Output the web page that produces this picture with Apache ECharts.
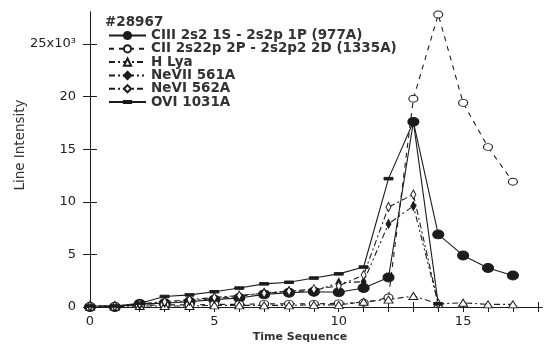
<!DOCTYPE html>
<html>
<head>
<meta charset="utf-8">
<script src="https://cdn.jsdelivr.net/npm/echarts@6/dist/echarts.min.js"></script>
<style>
  html, body { margin: 0; padding: 0; background: #fff; }
  #chart { width: 544px; height: 347px; }
</style>
</head>
<body>
<div id="chart"></div>
<script>
// time sequence steps
const timeSeq = [0, 1, 2, 3, 4, 5, 6, 7, 8, 9, 10, 11, 12, 13, 14, 15, 16, 17];

// line intensities (x10^3)
const ciii = [0, 0, 0.3, 0.35, 0.5, 0.7, 0.85, 1.2, 1.35, 1.45, 1.4, 1.8, 2.8, 17.6, 6.9, 4.9, 3.7, 3.0];
const cii = [0.1, 0.1, 0.15, 0.2, 0.2, 0.25, 0.25, 0.3, 0.3, 0.3, 0.35, 0.4, 0.9, 19.8, 27.8, 19.4, 15.2, 11.9];
const hlya = [0.05, 0.05, 0.1, 0.1, 0.1, 0.15, 0.15, 0.15, 0.15, 0.2, 0.2, 0.5, 0.7, 1.05, 0.3, 0.4, 0.25, 0.25];
const nevii = [0.1, 0.1, 0.2, 0.4, 0.6, 0.8, 1.0, 1.35, 1.5, 1.5, 2.3, 2.4, 7.9, 9.6, 0.3];
const nevi = [0.1, 0.1, 0.3, 0.5, 0.7, 0.9, 1.1, 1.3, 1.5, 1.7, 2.0, 3.05, 9.5, 10.7, 0.3];
const ovi = [0.1, 0.1, 0.35, 1.0, 1.15, 1.45, 1.8, 2.2, 2.35, 2.75, 3.15, 3.8, 12.2, 17.6, 0.3];

const xLabels = [0, 5, 10, 15];
const yLabels = [0, 5, 10, 15, 20, 25];

const ink = '#1c1c1c';
const font = 'DejaVu Sans';
// small horizontal dash, padded to a square box so it is not stretched
const dash = 'path://M0,0M0,3.6L10,3.6L10,6.4L0,6.4ZM10,10';

function pairs(vals) {
  return vals.map((v, i) => [timeSeq[i], v]);
}

function line(name, vals, symbol, size, fill, type) {
  return {
    name: name,
    type: 'line',
    data: pairs(vals),
    symbol: symbol,
    symbolSize: size,
    showAllSymbol: true,
    lineStyle: { color: ink, width: 1.1, type: type || 'solid' },
    itemStyle: { color: fill, borderColor: ink, borderWidth: 1 },
    z: 3
  };
}

const chart = echarts.init(document.getElementById('chart'), null, { renderer: 'canvas' });

const tickVals = timeSeq.concat([18]);

const option = {
  animation: false,
  backgroundColor: '#fff',
  grid: { left: 84, top: 12, right: 2, bottom: 37, containLabel: false },
  title: {
    text: '#28967',
    left: 105,
    top: 15,
    padding: 0,
    textStyle: { fontFamily: font, fontSize: 13.5, fontWeight: 'bold', color: '#333' }
  },
  legend: {
    orient: 'vertical',
    left: 108,
    top: 28.5,
    padding: 0,
    itemWidth: 37,
    itemHeight: 9,
    itemGap: -0.7,
    textStyle: { fontFamily: font, fontSize: 13.5, fontWeight: 'bold', color: '#333' },
    data: [
      'CIII 2s2 1S - 2s2p 1P (977A)',
      'CII 2s22p 2P - 2s2p2 2D (1335A)',
      'H Lya',
      'NeVII 561A',
      'NeVI 562A',
      'OVI 1031A'
    ]
  },
  xAxis: [
    {
      type: 'value',
      min: -0.24,
      max: 18.17,
      axisLine: { show: true, lineStyle: { color: ink, width: 1 } },
      axisTick: { show: true, inside: true, length: 5, customValues: tickVals, lineStyle: { color: ink } },
      axisLabel: { customValues: xLabels, margin: 5, fontFamily: font, fontSize: 13, color: '#222' },
      splitLine: { show: false }
    },
    {
      type: 'value',
      position: 'top',
      min: -0.24,
      max: 18.17,
      axisLine: { show: true, lineStyle: { color: ink, width: 1 } },
      axisTick: { show: true, inside: true, length: 5, customValues: tickVals, lineStyle: { color: ink } },
      axisLabel: { show: false },
      splitLine: { show: false }
    }
  ],
  yAxis: [
    {
      type: 'value',
      min: -0.285,
      max: 28.04,
      axisLine: { show: true, lineStyle: { color: ink, width: 1 } },
      axisTick: { show: true, inside: true, length: 7, customValues: yLabels, lineStyle: { color: ink } },
      axisLabel: {
        customValues: yLabels,
        margin: 8,
        fontFamily: font,
        fontSize: 13,
        color: '#222',
        formatter: v => (v === 25 ? '25x10³' : String(v))
      },
      splitLine: { show: false }
    },
    {
      type: 'value',
      position: 'right',
      min: -0.285,
      max: 28.04,
      axisLine: { show: true, lineStyle: { color: ink, width: 1 } },
      axisTick: { show: true, inside: true, length: 7, customValues: yLabels, lineStyle: { color: ink } },
      axisLabel: { show: false },
      splitLine: { show: false }
    }
  ],
  graphic: [
    {
      type: 'text',
      x: 20,
      y: 145,
      rotation: Math.PI / 2,
      style: { text: 'Line Intensity', align: 'center', verticalAlign: 'middle', fontFamily: font, fontSize: 13.5, fill: '#333' }
    },
    {
      type: 'text',
      x: 300,
      y: 337,
      style: { text: 'Time Sequence', align: 'center', verticalAlign: 'middle', fontFamily: font, fontSize: 11, fontWeight: 'bold', fill: '#333' }
    }
  ],
  series: [
    line('CIII 2s2 1S - 2s2p 1P (977A)', ciii, 'circle', [11, 9], ink, 'solid'),
    line('CII 2s22p 2P - 2s2p2 2D (1335A)', cii, 'circle', [9, 7], '#fff', [5, 5]),
    line('H Lya', hlya, 'triangle', [9, 7], '#fff', [6, 3, 2, 3]),
    line('NeVII 561A', nevii, 'diamond', [5, 9], ink, [6, 3, 2, 3, 2, 3]),
    line('NeVI 562A', nevi, 'diamond', [5, 9], '#fff', [6, 3, 2, 3]),
    line('OVI 1031A', ovi, dash, [9, 9], ink, 'solid')
  ]
};

chart.setOption(option);
</script>
</body>
</html>
